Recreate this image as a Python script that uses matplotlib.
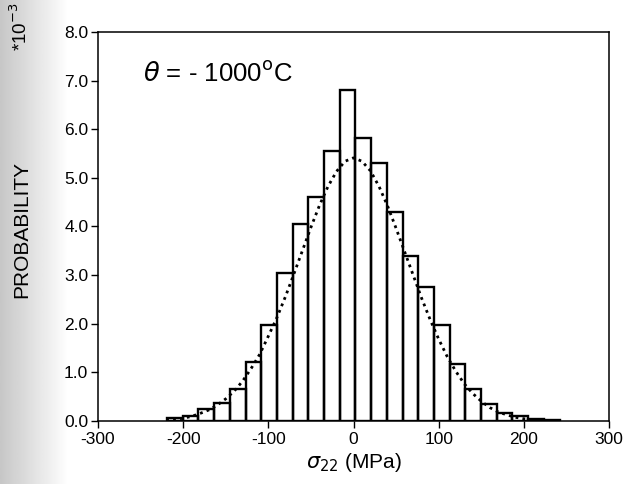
import numpy as np
import matplotlib.pyplot as plt

plt.rcParams['font.family'] = ['Liberation Sans', 'DejaVu Sans']
plt.rcParams['mathtext.fontset'] = 'dejavusans'

# histogram of sigma_22 (MPa), probability density *1e-3
bin_left = -219.0
bin_width = 18.44
heights = [0.05, 0.10, 0.25, 0.37, 0.66, 1.21, 1.96, 3.03, 4.05, 4.60,
           5.56, 6.80, 5.82, 5.30, 4.30, 3.40, 2.75, 1.97, 1.16, 0.65,
           0.34, 0.16, 0.09, 0.04, 0.02]

# dotted normal fit
fit_x = [-220, -210, -200, -190, -180, -170, -160, -150, -140, -130, -120,
         -110, -100, -90, -80, -70, -60, -50, -40, -30, -20, -10, 0,
         10, 20, 30, 40, 50, 60, 70, 80, 90, 100, 110, 120, 130, 140,
         150, 160, 170, 180, 190, 200, 210, 220]
fit_y = [0.02, 0.03, 0.05, 0.09, 0.15, 0.22, 0.32, 0.45, 0.61, 0.82, 1.08,
         1.37, 1.74, 2.12, 2.55, 3.02, 3.50, 3.98, 4.43, 4.82, 5.13, 5.34, 5.41,
         5.34, 5.14, 4.82, 4.42, 3.96, 3.48, 3.00, 2.52, 2.08, 1.68, 1.32, 1.02,
         0.76, 0.56, 0.40, 0.27, 0.18, 0.12, 0.07, 0.04, 0.02, 0.01]

xticks = [-300, -200, -100, 0, 100, 200, 300]
yticks = [0.0, 1.0, 2.0, 3.0, 4.0, 5.0, 6.0, 7.0, 8.0]

fig = plt.figure(figsize=(6.27, 4.84), dpi=100)

# grey scan shading on the left margin
bg = fig.add_axes([0, 0, 0.11, 1])
grad = np.linspace(0.78, 1.0, 60)[None, :]
bg.imshow(grad, cmap='gray', vmin=0, vmax=1, aspect='auto', extent=[0, 1, 0, 1])
bg.axis('off')

ax = fig.add_axes([0.1563, 0.1308, 0.815, 0.803])
ax.patch.set_facecolor('white')

lefts = bin_left + bin_width * np.arange(len(heights))
ax.bar(lefts, heights, width=bin_width, align='edge', fill=False,
       edgecolor='black', linewidth=1.7)
ax.plot(fit_x, fit_y, color='black', linewidth=2.0, linestyle=(0, (1, 1.5)))

ax.set_xlim(-300, 300)
ax.set_ylim(0, 8)
ax.set_xticks(xticks)
ax.set_xticklabels([str(v) for v in xticks])
ax.set_yticks(yticks)
ax.set_yticklabels(['%.1f' % v for v in yticks])
ax.tick_params(axis='x', direction='out', length=5, width=1, labelsize=12.5, pad=3)
ax.tick_params(axis='y', direction='out', length=5, width=1, labelsize=12.5, pad=2)
for s in ax.spines.values():
    s.set_linewidth(1.1)

ax.text(-247, 7.15, r'$\theta$ = - 1000$^{\mathrm{o}}$C', fontsize=18.5,
        va='center', ha='left')

ax.set_xlabel(r'$\sigma_{22}$ (MPa)', fontsize=15, labelpad=3)
fig.text(0.034, 0.525, 'PROBABILITY', rotation=90, fontsize=15,
         ha='center', va='center')
fig.text(0.033, 0.945, r'*10$^{-3}$', rotation=90, fontsize=13.5,
         ha='center', va='center')

fig.savefig('out.png', dpi=100)
